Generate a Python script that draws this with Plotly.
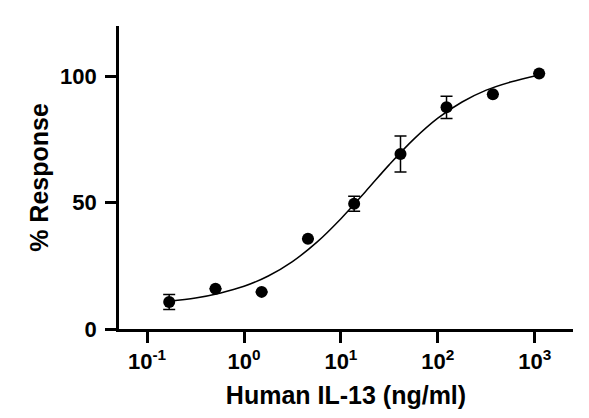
import plotly.graph_objects as go

# measured points (3-fold dilution series)
conc = [0.169, 0.508, 1.52, 4.57, 13.7, 41.2, 123, 370, 1111]
response = [10.7, 15.9, 14.7, 35.7, 49.6, 69.3, 87.8, 93.0, 101.2]
sem = [3.0, 0, 0, 0, 3.0, 7.1, 4.4, 0, 0]

# fitted curve
fit_conc = [0.17, 0.316, 0.562, 1, 1.78, 3.16, 5.62, 10, 17.8, 31.6,
            56.2, 100, 178, 316, 562, 1111]
fit_resp = [11.0, 12.3, 14.2, 16.9, 21.0, 26.7, 34.3, 43.7, 54.3, 65.1,
            75.1, 83.5, 89.9, 94.6, 97.8, 100.6]

x_ticks = [0.1, 1, 10, 100, 1000]
x_tick_text = ["10<sup>-1</sup>", "10<sup>0</sup>", "10<sup>1</sup>",
               "10<sup>2</sup>", "10<sup>3</sup>"]
y_ticks = [0, 50, 100]

FONT = "Arial, Liberation Sans, sans-serif"

fig = go.Figure()

fig.add_trace(go.Scatter(
    x=fit_conc, y=fit_resp,
    mode="lines",
    line=dict(color="black", width=1.5, shape="spline"),
    hoverinfo="skip",
))

fig.add_trace(go.Scatter(
    x=conc, y=response,
    mode="markers",
    marker=dict(color="black", size=12),
    error_y=dict(type="data", array=sem, visible=True,
                 color="black", thickness=1.5, width=6),
))

# page body adds an 8px offset, so the figure is a bit smaller
fig.update_layout(
    width=581, height=410,
    margin=dict(l=111, r=16, t=18, b=89),
    plot_bgcolor="white",
    paper_bgcolor="white",
    showlegend=False,
    font=dict(family=FONT, color="black"),
)

fig.update_xaxes(
    type="log",
    range=[-1.29, 3.395],
    tickvals=x_ticks,
    ticktext=x_tick_text,
    ticks="outside", ticklen=11, tickwidth=2.5, tickcolor="black",
    showline=True, linewidth=2.8, linecolor="black",
    showgrid=False, zeroline=False,
    tickfont=dict(size=22, family=FONT, weight="bold"),
    ticklabelstandoff=0,
    title=dict(text="Human IL-13 (ng/ml)", standoff=14,
               font=dict(size=25, family=FONT, weight="bold")),
    automargin=False,
)

fig.update_yaxes(
    range=[0, 120],
    tickvals=y_ticks,
    ticks="outside", ticklen=11, tickwidth=2.5, tickcolor="black",
    showline=True, linewidth=2.8, linecolor="black",
    showgrid=False, zeroline=False,
    tickfont=dict(size=22, family=FONT, weight="bold"),
    ticklabelstandoff=4,
    title=dict(text="% Response", standoff=5,
               font=dict(size=25, family=FONT, weight="bold")),
    automargin=False,
)

fig.write_html("out.html")
